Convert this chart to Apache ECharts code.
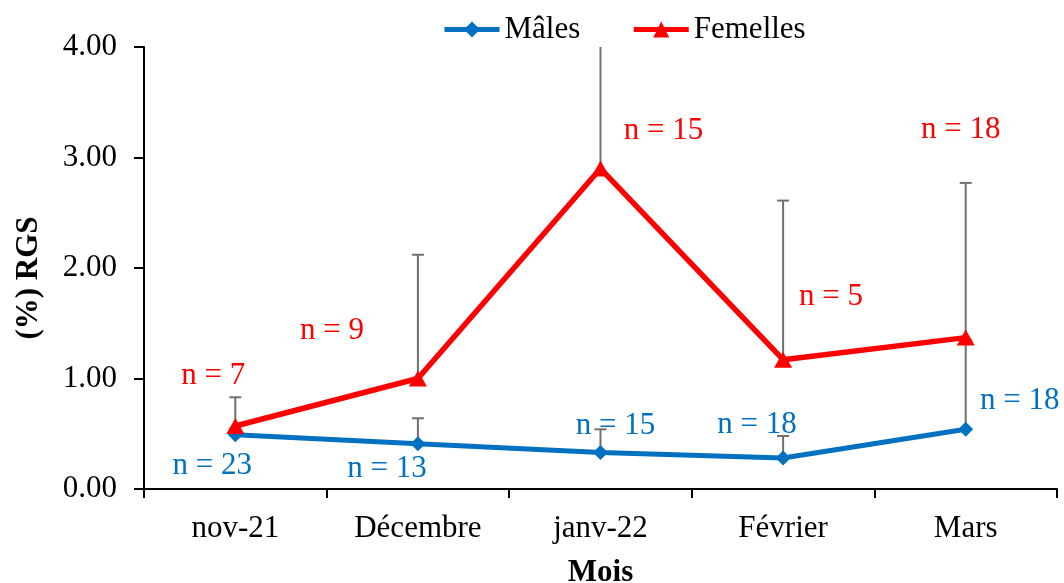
<!DOCTYPE html>
<html>
<head>
<meta charset="utf-8">
<script src="https://cdn.jsdelivr.net/npm/echarts@6/dist/echarts.min.js"></script>
<style>html,body{margin:0;padding:0;background:#fff}#c{width:1064px;height:583px}</style>
</head>
<body>
<div id="c"></div>
<script>
const months = ['nov-21', 'Décembre', 'janv-22', 'Février', 'Mars'];
const yTicks = [0, 1, 2, 3, 4];
const maleValues = [0.49, 0.41, 0.33, 0.28, 0.54];
const femaleValues = [0.57, 1.00, 2.90, 1.17, 1.37];
const maleErrTop = [0.55, 0.64, 0.54, 0.48, 1.35];
const femaleErrTop = [0.83, 2.12, 4.50, 2.61, 2.77];
const maleN = [23, 13, 15, 18, 18];
const femaleN = [7, 9, 15, 5, 18];

// layout only: label offsets in pixels relative to each point
const maleLabelOffsets = [[-23, 31], [-31, 25], [15, -27], [-26, -33], [54, -28]];
const femaleLabelOffsets = [[-22, -50], [-86, -48], [63, -38], [48, -63], [-5, -208]];

const FONT = '"Liberation Serif", "Times New Roman", serif';
const BLUE = '#0070C0';
const RED = '#FF0000';
const GRAY = '#707070';

function errData(tops, vals) {
  return vals.map((v, i) => [i, v, tops[i]]);
}

function renderErr(params, api) {
  const i = api.value(0);
  const p = api.coord([i, api.value(1)]);
  let t = api.coord([i, api.value(2)]);
  const limit = api.coord([i, yTicks[yTicks.length - 1]])[1];
  let clipped = false;
  if (t[1] < limit) { t = [t[0], limit]; clipped = true; }
  const children = [{
    type: 'line',
    shape: { x1: p[0], y1: p[1], x2: t[0], y2: t[1] },
    style: { stroke: GRAY, lineWidth: 2 }
  }];
  if (!clipped) {
    children.push({
      type: 'line',
      shape: { x1: t[0] - 6, y1: t[1], x2: t[0] + 6, y2: t[1] },
      style: { stroke: GRAY, lineWidth: 2 }
    });
  }
  return { type: 'group', children };
}

function labelled(values, ns, offsets) {
  return values.map((v, i) => ({
    value: v,
    label: { offset: offsets[i], formatter: 'n = ' + ns[i] }
  }));
}

const chart = echarts.init(document.getElementById('c'), null, { renderer: 'canvas' });
chart.setOption({
  animation: false,
  backgroundColor: '#fff',
  textStyle: { fontFamily: FONT },
  grid: { left: 144, right: 7, top: 47, bottom: 94, containLabel: false, outerBoundsMode: 'none' },
  legend: {
    left: 437, top: 9,
    itemWidth: 55, itemHeight: 20, itemGap: 51,
    lineStyle: { width: 5 },
    textStyle: { fontFamily: FONT, fontSize: 31, color: '#000' },
    data: ['Mâles', 'Femelles']
  },
  xAxis: {
    type: 'category',
    data: months,
    boundaryGap: true,
    name: 'Mois',
    nameLocation: 'middle',
    nameGap: 68,
    nameTextStyle: { fontFamily: FONT, fontSize: 31, fontWeight: 'bold', color: '#000' },
    axisLine: { lineStyle: { color: '#000', width: 2 } },
    axisTick: { show: true, length: 9, lineStyle: { color: '#000', width: 2 } },
    axisLabel: { fontFamily: FONT, fontSize: 31, color: '#000', margin: 24 },
    splitLine: { show: false }
  },
  yAxis: {
    type: 'value',
    min: yTicks[0], max: yTicks[yTicks.length - 1], interval: 1,
    axisLine: { show: true, lineStyle: { color: '#000', width: 2 } },
    axisTick: { show: true, length: 10, lineStyle: { color: '#000', width: 2 } },
    axisLabel: { fontFamily: FONT, fontSize: 31, color: '#000', margin: 27,
      formatter: v => v.toFixed(2) },
    splitLine: { show: false }
  },
  graphic: [{
    type: 'text',
    x: 29, y: 278,
    rotation: Math.PI / 2,
    style: {
      text: '(%) RGS',
      font: 'bold 31px ' + FONT,
      fill: '#000',
      align: 'center',
      verticalAlign: 'middle'
    }
  }],
  series: [
    {
      type: 'custom', name: 'errF', z: 1,
      renderItem: renderErr,
      data: errData(femaleErrTop, femaleValues),
      silent: true
    },
    {
      type: 'custom', name: 'errM', z: 1,
      renderItem: renderErr,
      data: errData(maleErrTop, maleValues),
      silent: true
    },
    {
      type: 'line', name: 'Mâles', z: 3,
      data: labelled(maleValues, maleN, maleLabelOffsets),
      symbol: 'diamond', symbolSize: [15, 15],
      itemStyle: { color: BLUE },
      lineStyle: { color: BLUE, width: 5 },
      label: { show: true, position: 'inside', fontFamily: FONT, fontSize: 31, color: BLUE }
    },
    {
      type: 'line', name: 'Femelles', z: 4,
      data: labelled(femaleValues, femaleN, femaleLabelOffsets),
      symbol: 'triangle', symbolSize: [18, 16],
      itemStyle: { color: RED },
      lineStyle: { color: RED, width: 5.5 },
      label: { show: true, position: 'inside', fontFamily: FONT, fontSize: 31, color: RED }
    }
  ]
});
</script>
</body>
</html>
